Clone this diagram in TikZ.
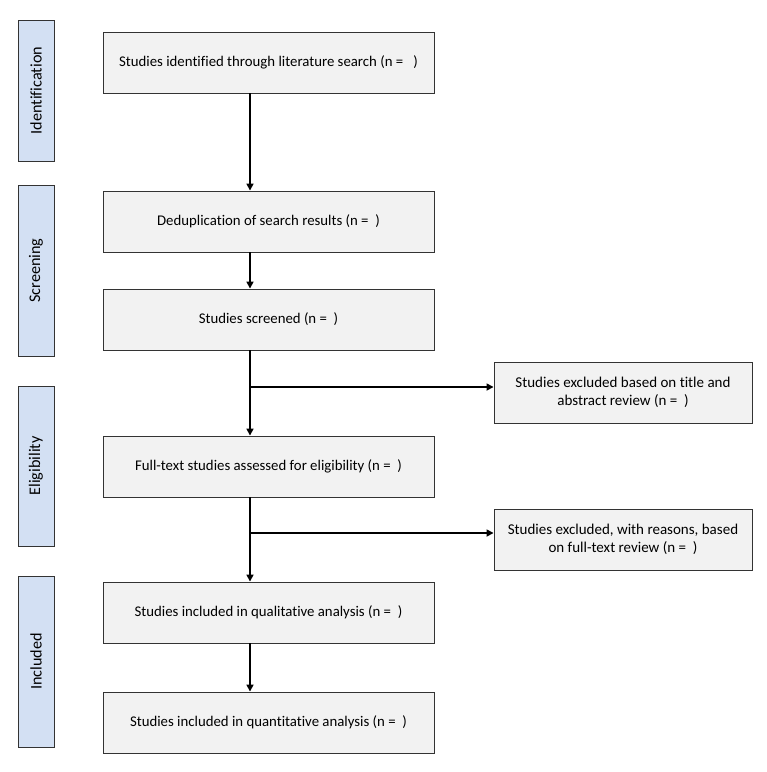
\documentclass[tikz,border=0pt]{standalone}
\usepackage{fontspec}
\setmainfont{Carlito}[Ligatures={NoCommon}]
\usetikzlibrary{arrows.meta}
\definecolor{boxfill}{HTML}{F2F2F2}
\definecolor{phasefill}{HTML}{D3E0F3}
\definecolor{edge}{HTML}{333333}
\begin{document}
\begin{tikzpicture}[x=1pt,y=-1pt,
  stagebox/.style={draw=edge,line width=0.9pt,fill=boxfill,minimum width=331pt,minimum height=61pt,inner sep=0pt,align=center,font=\fontsize{14.8}{18}\selectfont},
  exclbox/.style={draw=edge,line width=0.9pt,fill=boxfill,minimum width=258pt,minimum height=61pt,inner sep=0pt,align=center,font=\fontsize{15}{17.5}\selectfont},
  phasebox/.style={draw=edge,line width=0.9pt,fill=phasefill,minimum width=36pt,inner sep=0pt,font=\fontsize{16.2}{19}\selectfont},
  flow/.style={line width=1.6pt,-{Triangle[length=7pt,width=7pt]}}]
\useasboundingbox (0,0) rectangle (767,772);
% phase labels
\node[phasebox,minimum height=141pt] (ph1) at (36,90.5) {\rotatebox{90}{Identification}};
\node[phasebox,minimum height=171pt] (ph2) at (36,270.5) {\rotatebox{90}{Screening}};
\node[phasebox,minimum height=160pt] (ph3) at (36,466) {\rotatebox{90}{Eligibility}};
\node[phasebox,minimum height=171pt] (ph4) at (36,661.5) {\rotatebox{90}{Included}};
% main boxes
\node[stagebox] (b1) at (268.5,62.5) {Studies identified through literature search (n =\ \ \ )};
\node[stagebox] (b2) at (268.5,221.5) {Deduplication of search results (n =\ \ )};
\node[stagebox] (b3) at (268.5,319.5) {Studies screened (n =\ \ )};
\node[stagebox] (b4) at (268.5,466.5) {Full-text studies assessed for eligibility (n =\ \ )};
\node[stagebox] (b5) at (268.5,612.5) {Studies included in qualitative analysis (n =\ \ )};
\node[stagebox] (b6) at (268.5,722.5) {Studies included in quantitative analysis (n =\ \ )};
% exclusion boxes
\node[exclbox] (r1) at (623,392.5) {Studies excluded based on title and\\abstract review (n =\ \ )};
\node[exclbox] (r2) at (623,539.5) {Studies excluded, with reasons, based\\on full-text review (n =\ \ )};
% branch points
\coordinate (j1) at (250,387);
\coordinate (j2) at (250,533);
% arrows
\draw[flow] ([xshift=-18.5pt]b1.south) -- ([xshift=-18.5pt]b2.north);
\draw[flow] ([xshift=-18.5pt]b2.south) -- ([xshift=-18.5pt]b3.north);
\draw[flow] ([xshift=-18.5pt]b3.south) -- ([xshift=-18.5pt]b4.north);
\draw[flow] ([xshift=-18.5pt]b4.south) -- ([xshift=-18.5pt]b5.north);
\draw[flow] ([xshift=-18.5pt]b5.south) -- ([xshift=-18.5pt]b6.north);
\draw[flow] (j1) -- (j1 -| r1.west);
\draw[flow] (j2) -- (j2 -| r2.west);
\end{tikzpicture}
\end{document}
